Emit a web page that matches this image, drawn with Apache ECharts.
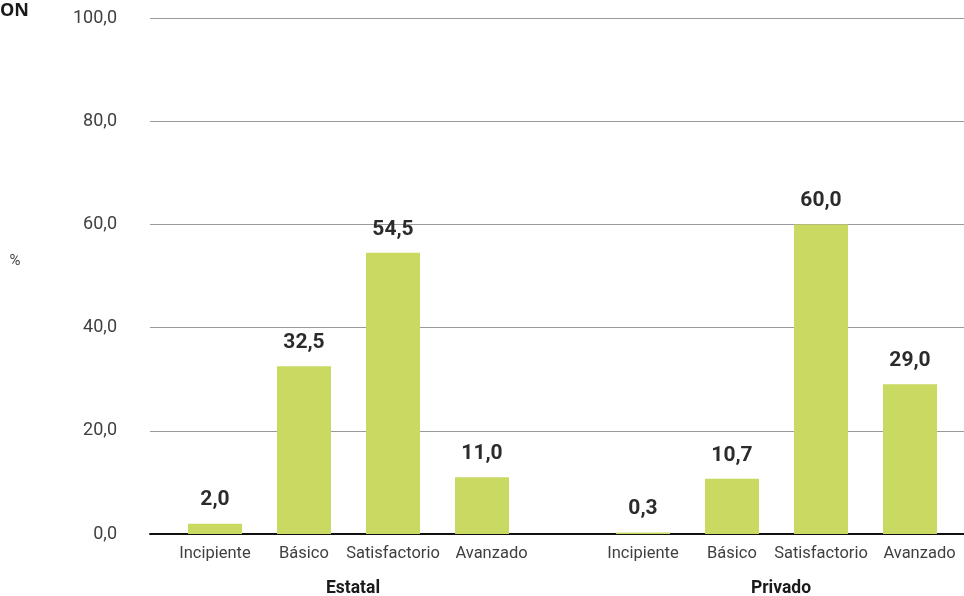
<!DOCTYPE html>
<html>
<head>
<meta charset="utf-8">
<script src="https://cdn.jsdelivr.net/npm/echarts@6/dist/echarts.min.js"></script>
<style>
html,body{margin:0;padding:0;background:#fff;}
#c{width:964px;height:596px;}
</style>
</head>
<body>
<div id="c"></div>
<script>
const levels = ['Incipiente', 'Básico', 'Satisfactorio', 'Avanzado'];
const groups = ['Estatal', 'Privado'];
const estatal = [2.0, 32.5, 54.5, 11.0];
const privado = [0.3, 10.7, 60.0, 29.0];
const yTicks = [0, 20, 40, 60, 80, 100];

const fmt = v => v.toFixed(1).replace('.', ',');
const yMin = yTicks[0], yMax = yTicks[yTicks.length - 1];

const catAxis = (gi, name) => ({
  gridIndex: gi, type: 'category', data: levels,
  axisLine: { show: false }, axisTick: { show: false },
  axisLabel: { color: '#3f3f3f', fontFamily: 'Roboto', fontSize: 16.5, margin: 11, interval: 0,
    formatter: (v, i) => i === levels.length - 1 ? '{s|' + v + '}' : v,
    rich: { s: { color: '#3f3f3f', fontFamily: 'Roboto', fontSize: 16.5, padding: [0, 0, 0, 19] } } },
  name: name, nameLocation: 'middle', nameGap: 46,
  nameTextStyle: { color: '#1a1a1a', fontFamily: 'Roboto', fontWeight: 'bold', fontSize: 17.5, padding: [0, 0, 0, 9] }
});
const barSeries = (idx, vals) => ({
  type: 'bar', xAxisIndex: idx, yAxisIndex: idx, data: vals, barWidth: 54,
  itemStyle: { color: '#c9d962' },
  label: { show: true, position: 'top', distance: 13, color: '#2b2b2b',
    fontFamily: 'Roboto', fontWeight: 'bold', fontSize: 21,
    formatter: p => fmt(p.value) }
});

const chart = echarts.init(document.getElementById('c'));
chart.setOption({
  animation: false,
  grid: [
    { left: 150, right: 0, top: 18, bottom: 62, outerBoundsMode: 'none', containLabel: false },
    { left: 170.5, right: 437.5, top: 18, bottom: 62, outerBoundsMode: 'none', containLabel: false },
    { left: 598.5, right: 9.5, top: 18, bottom: 62, outerBoundsMode: 'none', containLabel: false }
  ],
  xAxis: [
    { gridIndex: 0, type: 'category', data: [''],
      axisLine: { show: true, lineStyle: { color: '#111', width: 2 } },
      axisTick: { show: false }, axisLabel: { show: false } },
    catAxis(1, groups[0]),
    catAxis(2, groups[1])
  ],
  yAxis: [
    { gridIndex: 0, type: 'value', min: yMin, max: yMax, interval: 20,
      axisLine: { show: false }, axisTick: { show: false },
      axisLabel: { color: '#3f3f3f', fontFamily: 'Roboto', fontSize: 18, margin: 33, formatter: v => fmt(v) },
      splitLine: { lineStyle: { color: '#9a9a9a', width: 1 } } },
    { gridIndex: 1, type: 'value', min: yMin, max: yMax, show: false },
    { gridIndex: 2, type: 'value', min: yMin, max: yMax, show: false }
  ],
  series: [
    { type: 'bar', xAxisIndex: 0, yAxisIndex: 0, data: [] },
    barSeries(1, estatal),
    barSeries(2, privado)
  ],
  graphic: [
    { type: 'text', x: 15, y: 261,
      style: { text: '%', fill: '#3f3f3f', font: '15px Roboto', align: 'center', verticalAlign: 'middle' } },
    { type: 'text', x: 29, y: 11,
      style: { text: 'GESTION', fill: '#1a1a1a', font: 'bold 18px "Open Sans"', align: 'right', verticalAlign: 'middle' } }
  ]
});
</script>
</body>
</html>
